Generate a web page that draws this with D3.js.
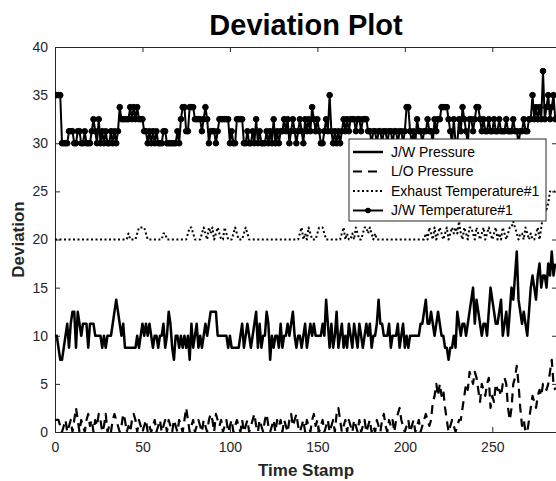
<!DOCTYPE html>
<html><head><meta charset="utf-8">
<script src="https://cdn.jsdelivr.net/npm/d3@7"></script>
<style>
body{margin:0;background:#fff;}
text{font-family:"Liberation Sans",Arial,Helvetica,sans-serif;}
</style>
</head><body>
<svg id="chart" width="556" height="481"></svg>
<script>
const title = "Deviation Plot";
const xLabel = "Time Stamp";
const yLabel = "Deviation";
const seriesNames = ["J/W Pressure", "L/O Pressure", "Exhaust Temperature#1", "J/W Temperature#1"];
const xTicks = [0, 50, 100, 150, 200, 250];
const yTicks = [0, 5, 10, 15, 20, 25, 30, 35, 40];

const jwPressure = [
10,10,8.75,7.5,7.5,8.75,10,11.25,8.75,11.25,
12.5,12.5,8.75,12.5,11.25,10,11.25,11.25,11.25,8.75,
11.25,11.25,11.25,10,10,10,10,8.75,10,8.75,
10,10,10,11.25,12.5,13.75,12.5,11.25,10,11.25,
8.75,8.75,8.75,8.75,8.75,8.75,8.75,10,8.75,10,
11.25,10,11.25,10,11.25,10,8.75,10,10,8.75,
10,10,11.25,8.75,10,12.5,11.25,8.75,7.5,10,
10,8.75,10,8.75,10,8.75,10,7.5,11.25,8.75,
10,11.25,8.75,10,8.75,10,11.25,10,11.25,12.5,
12.5,12.5,12.5,10,10,10,10,10,10,8.75,
10,8.75,8.75,8.75,8.75,8.75,10,11.25,8.75,10,
11.25,10,8.75,10,11.25,12.5,8.75,11.25,8.75,10,
10,12.5,11.25,7.5,10,8.75,10,10,8.75,11.25,
8.75,10,10,11.25,10,11.25,12.5,10,8.75,10,
10,8.75,10,11.25,8.75,10,11.25,10,11.25,10,
10,10,10,11.25,10,13.75,11.25,8.75,11.25,8.75,
10,12.5,8.75,10,11.25,8.75,10,8.75,11.25,10,
8.75,11.25,10,8.75,11.25,10,8.75,10,11.25,10,
11.25,8.75,10,10,11.25,13.75,11.25,11.25,10,10,
10,11.25,8.75,10,10,10,11.25,8.75,10,11.25,
8.75,10,8.75,10,10,10,10,10,10,11.25,
11.25,12.5,13.75,11.25,11.25,12.5,11.25,10,11.25,12.5,
11.25,10,10,8.75,8.75,7.5,8.75,8.75,10,8.75,
12.5,11.25,10,11.25,11.25,10,11.25,12.5,13.75,15,
11.25,13.75,12.5,11.25,10,11.25,11.25,10,12.5,15,
13.75,12.5,11.25,11.25,12.5,13.75,10,11.25,12.5,10,
12.5,15,13.75,16.25,18.75,13.75,12.5,11.25,12.5,11.25,
10,12.5,15,16.25,15,13.75,16.25,17.5,15,16.25,
16.25,15,17.5,16.25,18.75,16.25,17.5
];

const loPressure = [
1.25,1.25,1.25,0.625,0,0.625,1.25,0,0.625,1.25,
0,1.25,2.5,1.25,0,1.25,0.625,0,1.25,1.875,
0.625,1.25,0,1.25,0.625,1.875,1.25,0,0.625,1.875,
0,0.625,0,1.25,1.875,1.25,0.625,0,0.625,1.875,
1.25,0,0.625,0,1.25,1.875,1.25,0,1.25,0.625,
0,0.625,1.25,0,0.625,0,0.625,1.25,0,0.625,
1.25,0,0.625,1.25,0,1.25,0.625,0,1.25,0.625,
0,1.25,0.625,0,1.25,2.5,1.25,0,0.625,1.25,
0,0.625,1.25,0.625,0,1.25,0.625,0,1.25,1.875,
1.25,0,1.875,1.25,0.625,1.25,0,0.625,1.25,0,
0.625,1.25,0,0.625,1.25,0.625,0,1.25,0,0.625,
1.25,0,0.625,1.25,1.875,0.625,0,1.25,0.625,0,
1.25,1.875,0.625,0,0.625,1.25,0,1.25,0.625,1.25,
0,1.25,0.625,0,1.25,1.875,0.625,1.25,1.875,0.625,
0,0.625,1.25,0,1.25,0.625,0,1.25,1.875,0.625,
1.25,0,0.625,1.25,0,0.625,1.25,0,0.625,1.25,
0,1.875,2.5,1.25,0,0.625,1.25,0,1.25,0.625,
0,1.25,0.625,0,1.25,0,0.625,1.25,0,0.625,
1.25,0,0.625,0,1.25,0.625,0,1.25,1.875,0.625,
0,1.25,0.625,1.25,0,1.25,1.875,2.5,1.25,0.625,
0,0.625,1.25,0,0.625,1.25,0,0.625,1.25,0,
0.625,1.25,1.875,1.25,0.625,1.25,3.125,3.75,5,3.75,
5,3.75,4.375,2.5,1.25,0,0.625,1.25,0.625,0,
0.625,1.25,1.25,2.5,3.75,5,4.375,6.25,5.625,5,
6.25,5.625,4.375,3.125,5,4.375,3.75,5,5.625,2.5,
3.75,3.125,5,4.375,4.375,3.75,5,5.625,5,2.5,
1.25,2.5,5,5.625,6.875,5,2.5,0.625,1.25,0,
0,1.25,2.5,3.75,3.125,2.5,3.75,4.375,3.75,5,
5,4.375,5,6.25,7.5,5,4.375
];

const exhaustTemp = [
20,20,20,20,20,20,20,20,20,20,
20,20,20,20,20,20,20,20,20,20,
20,20,20,20,20,20,20,20,20,20,
20,20,20,20,20,20,20,20,20,20,
20,20,20.625,20,20,20,20,20.625,21.25,21.25,
21.25,21.25,20.625,20,20,20,20,20,20,20,
20,20,20.625,20.625,20,20,20,20,20,20,
20,20,20,20,20,20,20.625,21.25,21.25,20.625,
20,20,20,20,20.625,21.25,20.625,20,21.25,20.625,
21.25,20,20.625,21.25,20.625,20,20,21.25,20.625,20,
20,20,20.625,21.25,20.625,20,20,20,20.625,21.25,
20.625,20,20,20,20,20,20,20,20,20,
20,20,20,20,20,20,20,20,20,20,
20,20,20,20,20,20,20,20,20,20,
20.625,21.25,20,20.625,20,21.25,20.625,20,20,20,
20.625,21.25,21.25,21.25,20.625,20,20,20,20,20,
20,20,20,20,20.625,21.25,20,20.625,20,20,
20.625,20,21.25,20.625,20,20,20.625,21.25,21.25,20.625,
21.25,20.625,20,20.625,20,20,20,20,20,20,
20,20,20,20,20,20,20,20,20,20,
20,20,20,20,20,20,20,20,20,20,
20,20,20.625,20,21.25,20.625,20,21.25,20,20.625,
21.25,20.625,20,20.625,21.25,20,20.625,21.25,20.625,21.25,
20.625,21.875,20.625,20,21.25,20.625,20,21.25,21.25,20.625,
20,21.25,20.625,20,20.625,21.25,20,20.625,21.25,20.625,
20,20.625,21.25,20,20.625,20,21.25,20.625,20,20.625,
21.25,21.25,21.875,21.25,20.625,20,20.625,20.625,20,21.25,
20.625,20,20.625,20,20,20.625,21.25,20,21.25,22.5,
23.75,23.125,23.75,25,25,25,25
];

const jwTemp = [
35,35,35,35,30,30,30,30,31.25,31.25,
31.25,30,30,31.25,31.25,30,30,31.25,30,30,
30,31.25,32.5,31.25,30,32.5,30,31.25,30,31.25,
30,30,31.25,30,31.25,30,31.25,33.75,32.5,32.5,
32.5,32.5,32.5,33.75,32.5,33.75,32.5,33.75,32.5,32.5,
32.5,31.25,31.25,30,31.25,30,31.25,30,31.25,30,
30,30,31.25,31.25,30,30,30,30,30,30,
31.25,30,32.5,33.75,33.75,31.25,31.25,33.75,33.75,33.75,
32.5,32.5,32.5,32.5,31.25,32.5,33.75,32.5,30,31.25,
31.25,31.25,30,31.25,32.5,32.5,32.5,32.5,32.5,32.5,
30,31.25,30,30,32.5,32.5,32.5,32.5,30,30,
31.25,30,30,31.25,30,32.5,30,31.25,30,30,
30,31.25,30,31.25,30,32.5,30,31.25,30,31.25,
31.25,32.5,31.25,32.5,30,31.25,32.5,31.25,30,31.25,
32.5,31.25,30,32.5,31.25,32.5,31.25,33.75,32.5,31.25,
32.5,31.25,30,30,31.25,32.5,31.25,35,31.25,30,
31.25,30,31.25,30,31.25,32.5,31.25,32.5,31.25,32.5,
32.5,32.5,31.25,32.5,32.5,31.25,32.5,32.5,32.5,31.25,
31.25,30,31.25,31.25,30,31.25,31.25,30,31.25,31.25,
30,31.25,31.25,30,31.25,31.25,30,31.25,31.25,30,
31.25,33.75,33.75,31.25,30,31.25,30,32.5,31.25,31.25,
30,31.25,31.25,32.5,31.25,31.25,30,32.5,31.25,32.5,
32.5,33.75,33.75,33.75,33.75,32.5,31.25,30,32.5,30,
30,32.5,31.25,33.75,32.5,31.25,30,32.5,32.5,31.25,
32.5,33.75,33.75,32.5,31.25,32.5,31.25,31.25,32.5,31.25,
31.25,32.5,31.25,31.25,32.5,31.25,31.25,31.25,32.5,31.25,
31.25,31.25,32.5,31.25,31.25,30,31.25,31.25,32.5,31.25,
31.25,32.5,32.5,35,32.5,33.75,32.5,33.75,32.5,37.5,
32.5,33.75,35,32.5,33.75,35,32.5
];

const svg = d3.select("#chart");
const L = 55, R = 557, T = 47, B = 432;
const x = d3.scaleLinear().domain([0, 287]).range([L, R]);
const y = d3.scaleLinear().domain([0, 40]).range([B, T]);
const axisColor = "#262626";

// title
svg.append("text").attr("x", (L + R) / 2).attr("y", 35)
  .attr("text-anchor", "middle").attr("font-size", 29).attr("font-weight", "bold")
  .attr("fill", "#000").text(title);

// axes
const xAxis = svg.append("g").attr("transform", `translate(0,${B})`)
  .call(d3.axisBottom(x).tickValues(xTicks).tickSizeInner(-5).tickSizeOuter(0).tickPadding(10));
const xAxisTop = svg.append("g").attr("transform", `translate(0,${T})`)
  .call(d3.axisTop(x).tickValues(xTicks).tickSizeInner(-5).tickSizeOuter(0).tickFormat(""));
const yAxis = svg.append("g").attr("transform", `translate(${L},0)`)
  .call(d3.axisLeft(y).tickValues(yTicks).tickSizeInner(-5).tickSizeOuter(0).tickPadding(7));
const yAxisRight = svg.append("g").attr("transform", `translate(${R},0)`)
  .call(d3.axisRight(y).tickValues(yTicks).tickSizeInner(-5).tickSizeOuter(0).tickFormat(""));
[xAxis, xAxisTop, yAxis, yAxisRight].forEach(g => {
  g.select(".domain").attr("stroke", axisColor).attr("stroke-width", 1);
  g.selectAll(".tick line").attr("stroke", axisColor);
  g.selectAll("text").attr("font-size", 14).attr("fill", axisColor)
    .attr("font-family", '"Liberation Sans",Arial,sans-serif');
});

// axis labels
svg.append("text").attr("x", (L + R) / 2).attr("y", 476)
  .attr("text-anchor", "middle").attr("font-size", 17).attr("font-weight", "bold")
  .attr("fill", axisColor).text(xLabel);
svg.append("text").attr("transform", `translate(24,${(T + B) / 2}) rotate(-90)`)
  .attr("text-anchor", "middle").attr("font-size", 17).attr("font-weight", "bold")
  .attr("fill", axisColor).text(yLabel);

// clip
svg.append("clipPath").attr("id", "clip").append("rect")
  .attr("x", L).attr("y", T).attr("width", R - L).attr("height", B - T);
const plot = svg.append("g").attr("clip-path", "url(#clip)");

const line = d3.line().x((d, i) => x(i)).y(d => y(d));
const styles = [
  {data: jwPressure, width: 2.5, dash: null},
  {data: loPressure, width: 2.2, dash: "9,6"},
  {data: exhaustTemp, width: 2, dash: "2,2.5"},
  {data: jwTemp, width: 2, dash: null, marker: true}
];
styles.forEach(s => {
  plot.append("path").datum(s.data).attr("d", line)
    .attr("fill", "none").attr("stroke", "#000").attr("stroke-width", s.width)
    .attr("stroke-linejoin", "round")
    .attr("stroke-dasharray", s.dash);
  if (s.marker) {
    plot.selectAll(null).data(s.data).enter().append("circle")
      .attr("cx", (d, i) => x(i)).attr("cy", d => y(d)).attr("r", 2.8)
      .attr("fill", "#000").attr("stroke", "#000").attr("stroke-width", 1);
  }
});

// legend
const lg = svg.append("g");
const lx = 349, ly = 139, lw = 197, lh = 82;
lg.append("rect").attr("x", lx).attr("y", ly).attr("width", lw).attr("height", lh)
  .attr("fill", "#fff").attr("stroke", axisColor).attr("stroke-width", 1);
seriesNames.forEach((name, i) => {
  const cy = ly + 13 + i * 19.5;
  const s = styles[i];
  lg.append("line").attr("x1", lx + 4).attr("x2", lx + 34).attr("y1", cy).attr("y2", cy)
    .attr("stroke", "#000").attr("stroke-width", s.width).attr("stroke-dasharray", s.dash);
  if (s.marker) lg.append("circle").attr("cx", lx + 19).attr("cy", cy).attr("r", 2.8).attr("fill", "#000");
  lg.append("text").attr("x", lx + 42).attr("y", cy).attr("dy", "0.35em")
    .attr("font-size", 14).attr("fill", "#000").text(name);
});
</script>
</body></html>
